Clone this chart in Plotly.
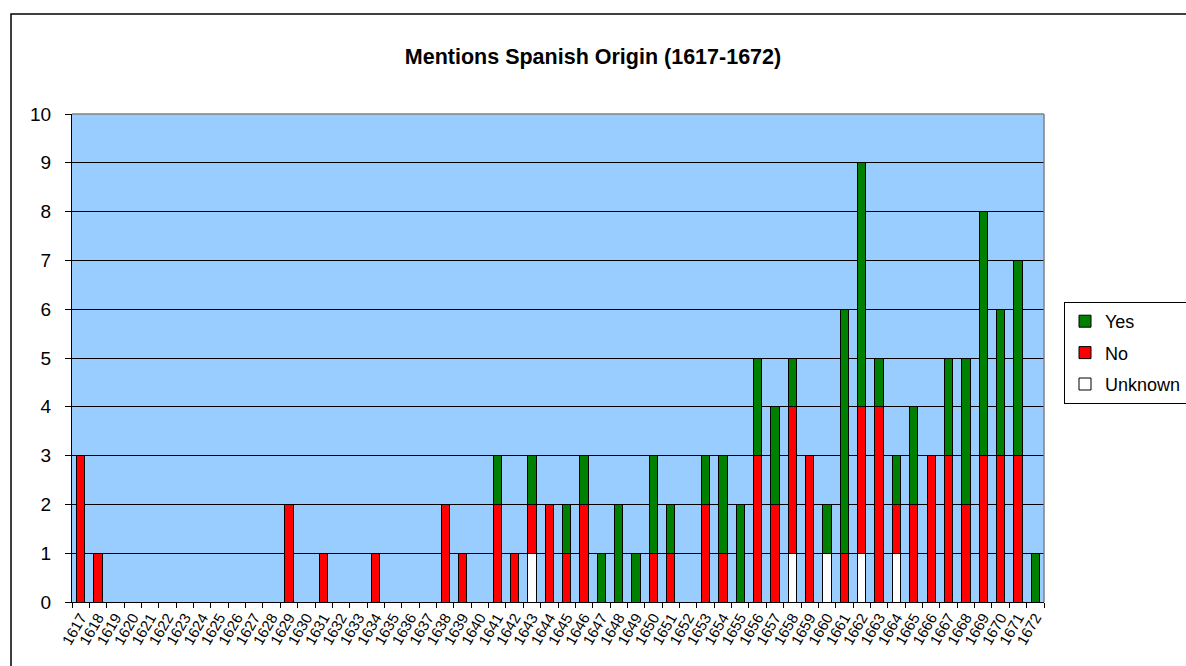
import plotly.graph_objects as go

# Data
years = [str(y) for y in range(1617, 1673)]

unknown = [0]*56
no = [0]*56
yes = [0]*56

unknown_vals = {1643: 1, 1658: 1, 1660: 1, 1662: 1, 1664: 1}
no_vals = {1617: 3, 1618: 1, 1629: 2, 1631: 1, 1634: 1, 1638: 2, 1639: 1,
           1641: 2, 1642: 1, 1643: 1, 1644: 2, 1645: 1, 1646: 2, 1650: 1,
           1651: 1, 1653: 2, 1654: 1, 1656: 3, 1657: 2, 1658: 3, 1659: 3,
           1661: 1, 1662: 3, 1663: 4, 1664: 1, 1665: 2, 1666: 3, 1667: 3,
           1668: 2, 1669: 3, 1670: 3, 1671: 3}
yes_vals = {1641: 1, 1643: 1, 1645: 1, 1646: 1, 1647: 1, 1648: 2, 1649: 1,
            1650: 2, 1651: 1, 1653: 1, 1654: 2, 1655: 2, 1656: 2, 1657: 2,
            1658: 1, 1660: 1, 1661: 5, 1662: 5, 1663: 1, 1664: 1, 1665: 2,
            1667: 2, 1668: 3, 1669: 5, 1670: 3, 1671: 4, 1672: 1}

for y, v in unknown_vals.items():
    unknown[y - 1617] = v
for y, v in no_vals.items():
    no[y - 1617] = v
for y, v in yes_vals.items():
    yes[y - 1617] = v

FONT = "Liberation Sans, Arial, sans-serif"

fig = go.Figure()
fig.add_trace(go.Bar(x=years, y=unknown, name="Unknown", marker_color="white",
                     legendgroup="u", legendrank=3,
                     marker_line=dict(color="black", width=1)))
fig.add_trace(go.Bar(x=years, y=no, name="No", marker_color="#FF0000",
                     legendgroup="n", legendrank=2,
                     marker_line=dict(color="black", width=1)))
fig.add_trace(go.Bar(x=years, y=yes, name="Yes", marker_color="#008000",
                     legendgroup="y", legendrank=1,
                     marker_line=dict(color="black", width=1)))

fig.update_layout(
    barmode="stack",
    bargap=0.52,
    width=1186, height=666,
    margin=dict(l=72, r=142, t=114, b=64),
    paper_bgcolor="white",
    plot_bgcolor="#99CCFF",
    font=dict(family=FONT, color="black"),
    title=dict(text="<b>Mentions Spanish Origin (1617-1672)</b>",
               x=0.5, xref="container", xanchor="center",
               y=1 - 56/666, yref="container", yanchor="middle",
               font=dict(size=21.5, family=FONT)),
    legend=dict(traceorder="grouped", xref="container", yref="container",
                x=1064/1186, xanchor="left",
                y=1 - 302/666, yanchor="top", bgcolor="white",
                bordercolor="black", borderwidth=1, tracegroupgap=5,
                font=dict(size=18, family=FONT)),
    showlegend=True,
)
fig.update_xaxes(type="category", tickson="boundaries", ticks="outside",
                 tickmode="array", tickvals=years, ticktext=years,
                 ticklen=5, tickcolor="black", showline=True, linecolor="black",
                 linewidth=1, showgrid=False, tickangle=-60,
                 tickfont=dict(size=15, family=FONT))
fig.update_yaxes(range=[0, 10], dtick=1, ticks="outside", ticklen=6,
                 tickcolor="black", showline=True, linecolor="black",
                 linewidth=1, gridcolor="black", gridwidth=1,
                 ticklabelstandoff=10, tickfont=dict(size=19, family=FONT),
                 zeroline=False)

# plot area border (top and right are grey)
fig.add_shape(type="line", xref="paper", yref="paper", x0=0, x1=1, y0=1, y1=1,
              line=dict(color="#808080", width=1.5))
fig.add_shape(type="line", xref="paper", yref="paper", x0=1, x1=1, y0=0, y1=1,
              line=dict(color="#808080", width=1.5))
# outer chart border
fig.add_shape(type="rect", xref="paper", yref="paper",
              x0=(11-72)/972, x1=1.2, y0=(602-14)/488, y1=-0.3,
              line=dict(color="black", width=1.5))

fig.write_html("out.html", config={"displayModeBar": False},
               post_script="document.body.style.margin='0';")
